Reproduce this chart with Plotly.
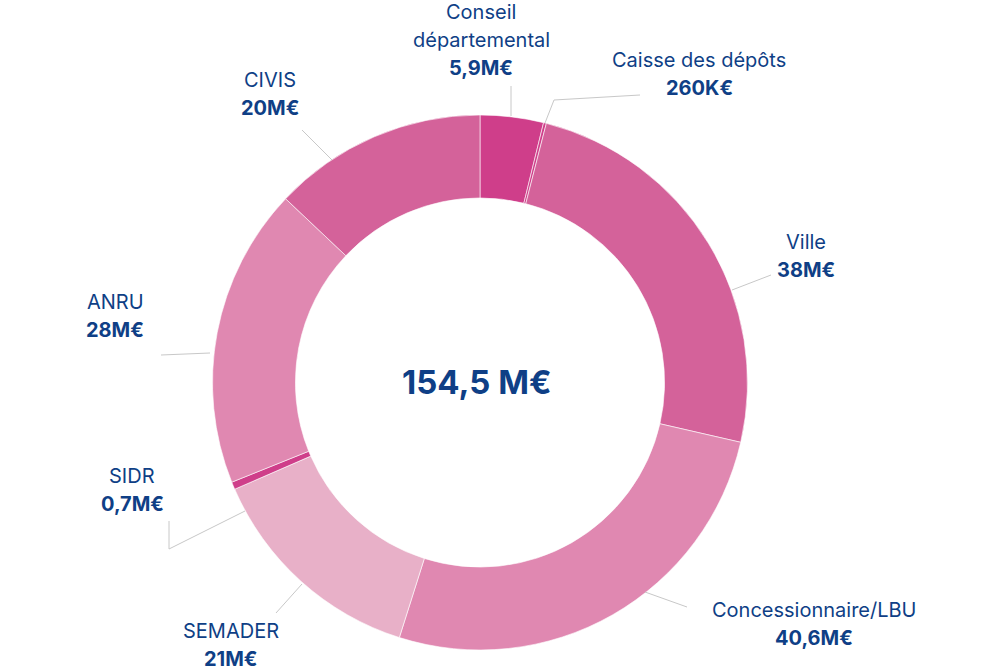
import plotly.graph_objects as go

# ---- data ----
categories = ["Conseil départemental", "Caisse des dépôts", "Ville", "Concessionnaire/LBU",
              "SEMADER", "SIDR", "ANRU", "CIVIS"]
values = [5.9, 0.26, 38, 40.6, 21, 0.7, 28, 20]
value_labels = ["5,9M€", "260K€", "38M€", "40,6M€", "21M€", "0,7M€", "28M€", "20M€"]
name_lines = [["Conseil", "départemental"], ["Caisse des dépôts"], ["Ville"], ["Concessionnaire/LBU"],
              ["SEMADER"], ["SIDR"], ["ANRU"], ["CIVIS"]]
total_label = "154,5 M€"

# ---- styling / layout ----
colors = ["#cf3e8a", "#cf3e8a", "#d4629a", "#e088b1", "#e8b0c8", "#cf3e8a", "#e088b1", "#d4629a"]
W, H = 1005, 670
TEXT = "#0f3f86"
FONT = "Inter"

# label placements in pixels (screen coords): (center x, y of first line)
label_pos = [(481, 12), (699, 60), (806, 242), (814, 610), (231, 631), (132, 476), (115, 302), (270, 80)]
LINE_H = 28
# leader lines (pixel polylines, screen coords)
leaders = [
    [(511, 116), (511, 86)],
    [(545, 123), (554, 100), (640, 95)],
    [(732, 290), (771, 275)],
    [(645, 592), (687, 607)],
    [(302, 584), (276, 613)],
    [(245, 511), (169, 549), (169, 521)],
    [(210, 353), (161, 355)],
    [(332, 160), (302, 130)],
]

def px(x):
    return x / W

def py(y):
    return 1 - y / H

cx, cy, r = 480, 382.5, 267.5

fig = go.Figure(go.Pie(
    labels=categories, values=values, sort=False, direction="clockwise", rotation=0,
    hole=0.69, marker=dict(colors=colors, line=dict(color="white", width=0.6)),
    textinfo="none", hoverinfo="label+value",
    domain=dict(x=[px(cx - r), px(cx + r)], y=[py(cy + r), py(cy - r)]),
))

annotations = []
for names, val, (lx, ly) in zip(name_lines, value_labels, label_pos):
    lines = names + [f"<b>{val}</b>"]
    for i, t in enumerate(lines):
        annotations.append(dict(
            x=px(lx), y=py(ly + i * LINE_H), xref="paper", yref="paper",
            text=t, showarrow=False, xanchor="center", yanchor="middle",
            font=dict(family=FONT, size=20, color=TEXT),
        ))
annotations.append(dict(
    x=px(477), y=py(382), xref="paper", yref="paper", text=f"<b>{total_label}</b>",
    showarrow=False, xanchor="center", yanchor="middle",
    font=dict(family=FONT, size=33, color=TEXT),
))

shapes = []
for pts in leaders:
    for (x0, y0), (x1, y1) in zip(pts[:-1], pts[1:]):
        shapes.append(dict(type="line", xref="paper", yref="paper",
                           x0=px(x0), y0=py(y0), x1=px(x1), y1=py(y1),
                           line=dict(color="#c8c8c8", width=1)))

fig.update_layout(
    width=W, height=H, margin=dict(l=0, r=0, t=0, b=0),
    paper_bgcolor="white", plot_bgcolor="white", showlegend=False,
    annotations=annotations, shapes=shapes,
)

fig.write_html("out.html", config={"displayModeBar": False},
               post_script="document.body.style.margin='0';document.body.style.overflow='hidden';")
